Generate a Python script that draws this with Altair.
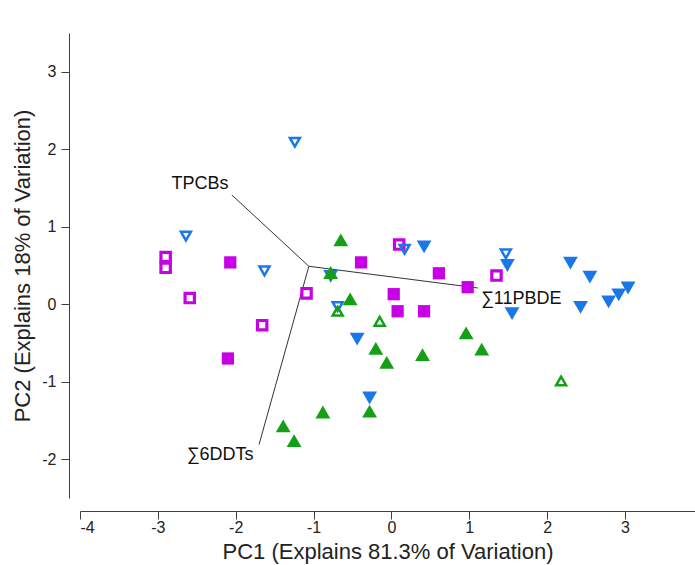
import altair as alt
import pandas as pd

# ---- data ----
mag_open_x = [-2.90, -2.90, -2.59, -1.66, -1.09, 0.10, 1.35]
mag_open_y = [0.61, 0.47, 0.08, -0.27, 0.14, 0.77, 0.37]

mag_fill_x = [-2.07, -2.10, -0.39, 0.61, 0.03, 0.08, 0.42, 0.98]
mag_fill_y = [0.54, -0.70, 0.54, 0.40, 0.13, -0.09, -0.09, 0.22]

blue_open_x = [-1.24, -2.64, -1.63, 0.17, -0.69, 1.47]
blue_open_y = [2.09, 0.88, 0.43, 0.71, -0.03, 0.65]

blue_fill_x = [-0.78, 0.42, -0.44, -0.28, 1.49, 1.55, 2.30, 2.55, 2.43, 2.79, 2.92, 3.04]
blue_fill_y = [0.36, 0.74, -0.45, -1.21, 0.50, -0.12, 0.53, 0.35, -0.04, 0.03, 0.12, 0.21]

green_fill_x = [-0.65, -0.78, -0.53, -0.20, -0.06, 0.40, 0.96, 1.16, -1.39, -1.25, -0.88, -0.28]
green_fill_y = [0.83, 0.41, 0.07, -0.57, -0.75, -0.65, -0.37, -0.58, -1.57, -1.76, -1.39, -1.38]

green_open_x = [-0.69, -0.15, 2.18]
green_open_y = [-0.09, -0.22, -0.99]

# biplot loadings: origin and arrow ends
origin = (-1.06, 0.49)
vec_names = ["TPCBs", "∑11PBDE", "∑6DDTs"]
vec_x = [-2.05, 1.11, -1.70]
vec_y = [1.41, 0.21, -1.81]
lab_x = [-2.46, 1.15, -2.20]
lab_y = [1.55, 0.07, -1.94]
lab_align = ["center", "left", "center"]

x_ticks = [-4, -3, -2, -1, 0, 1, 2, 3]
y_ticks = [-2, -1, 0, 1, 2, 3]

MAG = "#C800E6"
BLUE = "#1A78E6"
GREEN = "#14A014"

LABEL_EXPR = "datum.value < 0 ? '-' + abs(datum.value) : '' + datum.value"

xs = alt.Scale(domain=[-4, 3.9], nice=False, zero=False)
ys = alt.Scale(domain=[-2.5, 3.5], nice=False, zero=False)

X = alt.X("x:Q", scale=xs, axis=alt.Axis(values=x_ticks, title="PC1 (Explains 81.3% of Variation)",
                                         offset=13, labelExpr=LABEL_EXPR))
Y = alt.Y("y:Q", scale=ys, axis=alt.Axis(values=y_ticks, title="PC2 (Explains 18% of Variation)",
                                         offset=11, labelExpr=LABEL_EXPR))


def pts(xv, yv, shape, color, filled, size, sw=0):
    df = pd.DataFrame({"x": xv, "y": yv})
    if filled:
        m = alt.Chart(df).mark_point(shape=shape, filled=True, fill=color, size=size, opacity=1, strokeWidth=0)
    else:
        m = alt.Chart(df).mark_point(shape=shape, filled=False, stroke=color, size=size, opacity=1,
                                     strokeWidth=sw, fill="white", fillOpacity=0)
    return m.encode(x=X, y=Y)


lines_df = pd.DataFrame({
    "x": [origin[0]] * 3, "y": [origin[1]] * 3,
    "x2": vec_x, "y2": vec_y, "name": vec_names,
})
lines = alt.Chart(lines_df).mark_rule(color="#333333", strokeWidth=1).encode(
    x=X, y=Y, x2="x2:Q", y2="y2:Q")

texts = []
for n, tx, ty, al in zip(vec_names, lab_x, lab_y, lab_align):
    tdf = pd.DataFrame({"x": [tx], "y": [ty], "t": [n]})
    texts.append(alt.Chart(tdf).mark_text(align=al, baseline="middle", fontSize=18,
                                          font="Liberation Sans", color="#111111").encode(
        x=X, y=Y, text="t:N"))

chart = alt.layer(
    lines,
    pts(mag_open_x, mag_open_y, "square", MAG, False, 88, 3.2),
    pts(mag_fill_x, mag_fill_y, "square", MAG, True, 150),
    pts(blue_open_x, blue_open_y, "triangle-down", BLUE, False, 100, 2.5),
    pts(blue_fill_x, blue_fill_y, "triangle-down", BLUE, True, 220),
    pts(green_open_x, green_open_y, "triangle-up", GREEN, False, 100, 2.5),
    pts(green_fill_x, green_fill_y, "triangle-up", GREEN, True, 220),
    *texts,
).properties(
    width=615, height=465,
    autosize=alt.AutoSizeParams(type="none"),
    padding={"left": 80, "top": 33, "right": 0, "bottom": 67},
).configure_view(stroke=None).configure_axis(
    grid=False,
    domainColor="#404040",
    tickColor="#404040",
    tickSize=8,
    labelFont="Liberation Sans",
    labelFontSize=16,
    labelColor="#222222",
    titleFont="Liberation Sans",
    titleFontSize=22,
    titleFontWeight="normal",
    titleColor="#222222",
).configure_axisX(labelPadding=0, titlePadding=6).configure_axisY(labelPadding=5, titlePadding=7)

chart.save("out.html", embed_options={"renderer": "svg", "actions": False})
